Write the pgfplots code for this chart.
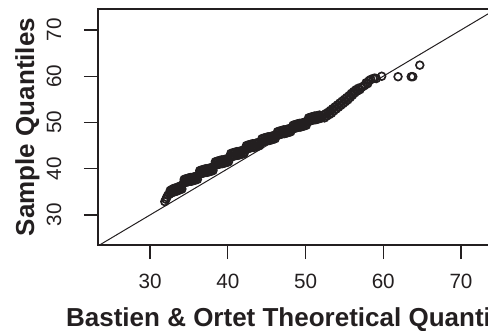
\documentclass[border=0pt]{standalone}
\usepackage{fontspec}
\setmainfont{Liberation Sans}
\usepackage{pgfplots}
\pgfplotsset{compat=1.18}
\definecolor{ink}{HTML}{231F20}
\begin{document}
\begin{tikzpicture}
\begin{axis}[
  at={(0,0)}, anchor=south west,
  scale only axis,
  width=297.9pt, height=177pt,
  xmin=23.31, xmax=74.4, ymin=23.51, ymax=74.54,
  xtick={30,40,50,60,70}, ytick={30,40,50,60,70},
  xtick pos=bottom, ytick pos=left,
  tick align=outside,
  major tick length=10.5pt,
  every tick/.style={ink, line width=0.9pt},
  axis line style={ink, line width=1pt},
  /pgf/number format/assume math mode=true,
  tick label style={font=\fontsize{15.5}{16}\selectfont, text=ink},
  xticklabel style={anchor=center, yshift=-16.5pt},
  yticklabel style={anchor=center, xshift=-22.5pt, rotate=90},
  xlabel={Bastien \& Ortet Theoretical Quantiles},
  ylabel={Sample Quantiles},
  label style={font=\fontsize{19.5}{20}\selectfont\bfseries, text=ink},
  xlabel style={at={(axis description cs:0.5,-0.318)}, anchor=center},
  ylabel style={at={(axis description cs:-0.178,0.5)}, anchor=center, rotate=0},
  clip=true,
]
\addplot[ink, line width=0.75pt] coordinates {(20,20) (80,80)};
\addplot[only marks, mark=o, mark size=2.9pt, mark options={ink, line width=1.25pt}] coordinates {
(31.9,32.9) (32.05,33.4) (32.15,33.8)
(32.3,34.3)(32.5,34.5)(32.7,34.7)(32.9,34.9)(33.1,35.0)(33.3,35.1)(33.5,35.2)(33.7,35.4)(33.9,35.5)(34.1,35.6)
(34.3,36.9)(34.5,37.0)(34.7,37.1)(34.9,37.2)(35.1,37.3)(35.3,37.3)(35.5,37.4)(35.7,37.5)(35.9,37.6)(36.1,37.7)
(36.3,38.8)(36.5,38.9)(36.7,39.0)(36.9,39.1)(37.1,39.2)(37.3,39.2)(37.5,39.3)(37.7,39.4)(37.9,39.5)(38.1,39.6)
(38.3,40.7)(38.5,40.8)(38.7,40.9)(38.9,41.0)(39.1,41.1)(39.3,41.1)(39.5,41.2)(39.7,41.3)(39.9,41.4)(40.1,41.5)
(40.3,42.5)(40.5,42.6)(40.7,42.7)(40.9,42.8)(41.1,42.9)(41.3,42.9)(41.5,43.0)(41.7,43.1)(41.9,43.2)(42.1,43.3)
(42.3,44.2)(42.5,44.3)(42.7,44.4)(42.9,44.5)(43.1,44.6)(43.3,44.6)(43.5,44.7)(43.7,44.8)(43.9,44.9)(44.1,45.0)
(44.3,45.7)(44.5,45.8)(44.7,45.9)(44.9,46.0)(45.1,46.1)(45.3,46.1)(45.5,46.2)(45.7,46.3)(45.9,46.4)(46.1,46.5)
(46.3,47.2)(46.5,47.3)(46.7,47.4)(46.9,47.5)(47.1,47.6)(47.3,47.6)(47.5,47.7)(47.7,47.8)(47.9,47.9)(48.1,48.0)
(48.3,48.6)(48.5,48.7)(48.7,48.8)(48.9,48.9)(49.1,49.0)(49.3,49.0)(49.5,49.1)(49.7,49.2)(49.9,49.3)(50.1,49.4)
(50.3,50.2)(50.5,50.3)(50.7,50.4)(50.9,50.5)(51.1,50.6)(51.3,50.6)(51.5,50.7)(51.7,50.8)(51.9,50.9)(52.1,51.0)
(52.3,51.6)(52.45,51.0)(52.6,51.9)(52.75,51.4)(52.9,52.2)(53.05,51.7)(53.2,52.6)(53.35,52.0)
(53.5,53.0)(53.65,52.5)(53.8,53.4)(53.95,52.9)(54.1,53.8)(54.25,53.3)(54.4,54.2)(54.55,53.7)
(54.7,54.6)(54.85,54.1)(55.0,55.0)(55.15,54.5)(55.3,55.4)(55.45,54.9)(55.6,55.8)(55.75,55.4)
(55.9,56.3)(56.05,55.9)(56.2,56.7)(56.35,56.4)(56.5,57.1)(56.65,56.8)(56.8,57.4)(57.0,57.1)
(57.2,57.6)(57.4,57.8)(57.6,58.0)(57.8,58.6)(58.0,58.4)(58.2,59.1)(58.4,59.3)(58.7,59.5)
(58.9,59.6)(59.1,59.5)(59.8,60.0)
(61.9,59.9) (63.6,59.9) (63.8,59.9) (64.7,62.4)
};
\addplot[only marks, mark=o, mark size=2.9pt, mark options={ink, line width=1.25pt}] coordinates {
(32.6,35.3)(32.8,35.5)(33.0,35.7)(33.2,35.8)(33.4,35.9)(33.6,36.0)(33.8,36.2)(34.0,36.3)
(34.4,37.7)(34.6,37.8)(34.8,37.9)(35.0,38.0)(35.2,38.1)(35.4,38.1)(35.6,38.2)(35.8,38.3)(36.0,38.4)
(36.4,39.6)(36.6,39.7)(36.8,39.8)(37.0,39.9)(37.2,40.0)(37.4,40.0)(37.6,40.1)(37.8,40.2)(38.0,40.3)
(38.4,41.5)(38.6,41.6)(38.8,41.7)(39.0,41.8)(39.2,41.9)(39.4,41.9)(39.6,42.0)(39.8,42.1)(40.0,42.2)
(40.4,43.3)(40.6,43.4)(40.8,43.5)(41.0,43.6)(41.2,43.7)(41.4,43.7)(41.6,43.8)(41.8,43.9)(42.0,44.0)
(42.4,45.0)(42.6,45.1)(42.8,45.2)(43.0,45.3)(43.2,45.4)(43.4,45.4)(43.6,45.5)(43.8,45.6)(44.0,45.7)
(44.4,46.5)(44.6,46.6)(44.8,46.7)(45.0,46.8)(45.2,46.9)(45.4,46.9)(45.6,47.0)(45.8,47.1)(46.0,47.2)
(46.4,48.0)(46.6,48.1)(46.8,48.2)(47.0,48.3)(47.2,48.4)(47.4,48.4)(47.6,48.5)(47.8,48.6)(48.0,48.7)
(48.4,49.4)(48.6,49.5)(48.8,49.6)(49.0,49.7)(49.2,49.8)(49.4,49.8)(49.6,49.9)(49.8,50.0)(50.0,50.1)
(50.4,51.0)(50.6,51.1)(50.8,51.2)(51.0,51.3)(51.2,51.4)(51.4,51.4)(51.6,51.5)(51.8,51.6)
};
\end{axis}
\pgfresetboundingbox
\useasboundingbox (-73.5pt,-64.5pt) rectangle (292.5pt,183.75pt);
\end{tikzpicture}
\end{document}
